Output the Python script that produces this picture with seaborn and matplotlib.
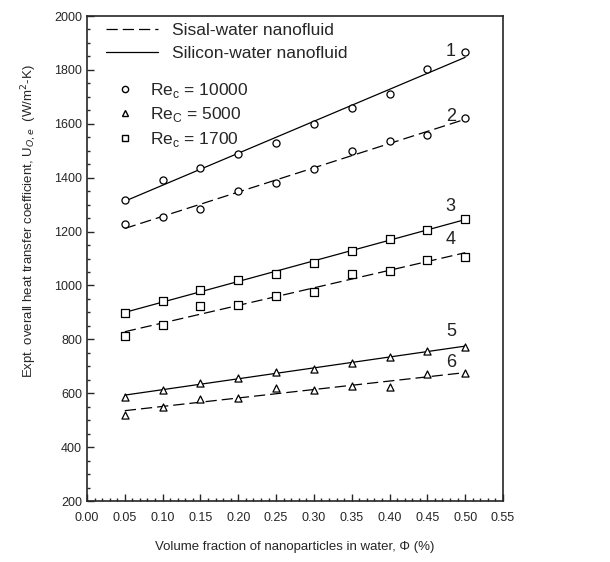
import numpy as np
import pandas as pd
import seaborn as sns
import matplotlib
matplotlib.use("Agg")
import matplotlib.pyplot as plt
from matplotlib.lines import Line2D
from matplotlib.ticker import MultipleLocator, FormatStrFormatter

# volume fraction of nanoparticles (%)
phi = [0.05, 0.10, 0.15, 0.20, 0.25, 0.30, 0.35, 0.40, 0.45, 0.50]

# expt. overall heat transfer coefficient (W/m2-K)
u_silicon_10000 = [1317, 1391, 1435, 1488, 1530, 1599, 1657, 1710, 1802, 1868]
u_sisal_10000 = [1228, 1253, 1282, 1352, 1381, 1431, 1500, 1537, 1558, 1620]
u_silicon_1700 = [896, 942, 985, 1020, 1042, 1084, 1129, 1171, 1206, 1248]
u_sisal_1700 = [812, 852, 922, 927, 961, 977, 1042, 1055, 1094, 1107]
u_silicon_5000 = [586, 612, 639, 657, 680, 691, 713, 734, 757, 771]
u_sisal_5000 = [521, 550, 577, 583, 620, 612, 627, 625, 670, 675]

curve_ids = ["1", "2", "3", "4", "5", "6"]
series = [u_silicon_10000, u_sisal_10000, u_silicon_1700,
          u_sisal_1700, u_silicon_5000, u_sisal_5000]
markers = ["o", "o", "s", "s", "^", "^"]
fluids = ["silicon", "sisal"] * 3
# where the curve numbers sit, relative to the last point
id_offset = [0, 7, 45, 62, 58, 39]

sns.set_style("ticks")
plt.rcParams['font.family'] = ['Liberation Sans', 'DejaVu Sans']

fig = plt.figure(figsize=(6.1, 5.62), dpi=100)
ax = fig.add_axes([0.1426, 0.1085, 0.682, 0.863])

dash = (0, (9, 4))
for cid, vals, mk, fl, off in zip(curve_ids, series, markers, fluids, id_offset):
    df = pd.DataFrame({"phi": phi, "U": vals})
    ls = "-" if fl == "silicon" else dash
    # linear fit through the points
    sns.regplot(data=df, x="phi", y="U", ax=ax, scatter=False, ci=None,
                line_kws=dict(color="black", lw=0.9, ls=ls))
    ax.scatter(df["phi"], df["U"], marker=mk, s=26, facecolors="white",
               edgecolors="black", linewidths=0.9, zorder=3)
    ax.text(0.481, vals[-1] + off, cid, fontsize=13, color="#222222",
            ha="center", va="center")

ax.set_xlim(0.0, 0.55)
ax.set_ylim(200, 2000)
ax.xaxis.set_major_locator(MultipleLocator(0.05))
ax.xaxis.set_minor_locator(MultipleLocator(0.01))
ax.yaxis.set_major_locator(MultipleLocator(200))
ax.yaxis.set_minor_locator(MultipleLocator(50))
ax.xaxis.set_major_formatter(FormatStrFormatter("%.2f"))
ax.tick_params(which="major", direction="in", length=5, width=1, labelsize=9)
ax.tick_params(which="minor", direction="in", length=2.5, width=1)
ax.tick_params(axis="x", pad=8)
for sp in ax.spines.values():
    sp.set_linewidth(1.2)
    sp.set_visible(True)

ax.set_xlabel("Volume fraction of nanoparticles in water, \u03a6 (%)", fontsize=9.5)
ax.xaxis.set_label_coords(0.5, -0.083)
ax.set_ylabel(r"Expt. overall heat transfer coefficient, U$_{O,e}$  (W/m$^{2}$-K)",
              fontsize=9.5)
ax.yaxis.set_label_coords(-0.115, 0.577)

# legends built by hand, like the original
line_handles = [
    Line2D([], [], color="black", lw=0.9, ls=dash),
    Line2D([], [], color="black", lw=0.9, ls="-"),
]
leg1 = ax.legend(line_handles, ["Sisal-water nanofluid", "Silicon-water nanofluid"],
                 loc="upper left", frameon=False, fontsize=12.5,
                 handlelength=3.0, labelspacing=0.45, borderaxespad=0,
                 bbox_to_anchor=(0.03, 1.0))
ax.add_artist(leg1)

mark_handles = [
    Line2D([], [], color="black", marker="o", ls="", mfc="white", ms=4.5),
    Line2D([], [], color="black", marker="^", ls="", mfc="white", ms=4.5),
    Line2D([], [], color="black", marker="s", ls="", mfc="white", ms=4.5),
]
mark_labels = [r"Re$_{\mathregular{c}}$ = 10000", r"Re$_{\mathregular{C}}$ = 5000",
               r"Re$_{\mathregular{c}}$ = 1700"]
ax.legend(mark_handles, mark_labels, loc="upper left", frameon=False,
          fontsize=12.5, handlelength=1.0, handletextpad=0.9, labelspacing=0.3,
          borderaxespad=0, bbox_to_anchor=(0.055, 0.88))

fig.savefig("out.png", dpi=100)
